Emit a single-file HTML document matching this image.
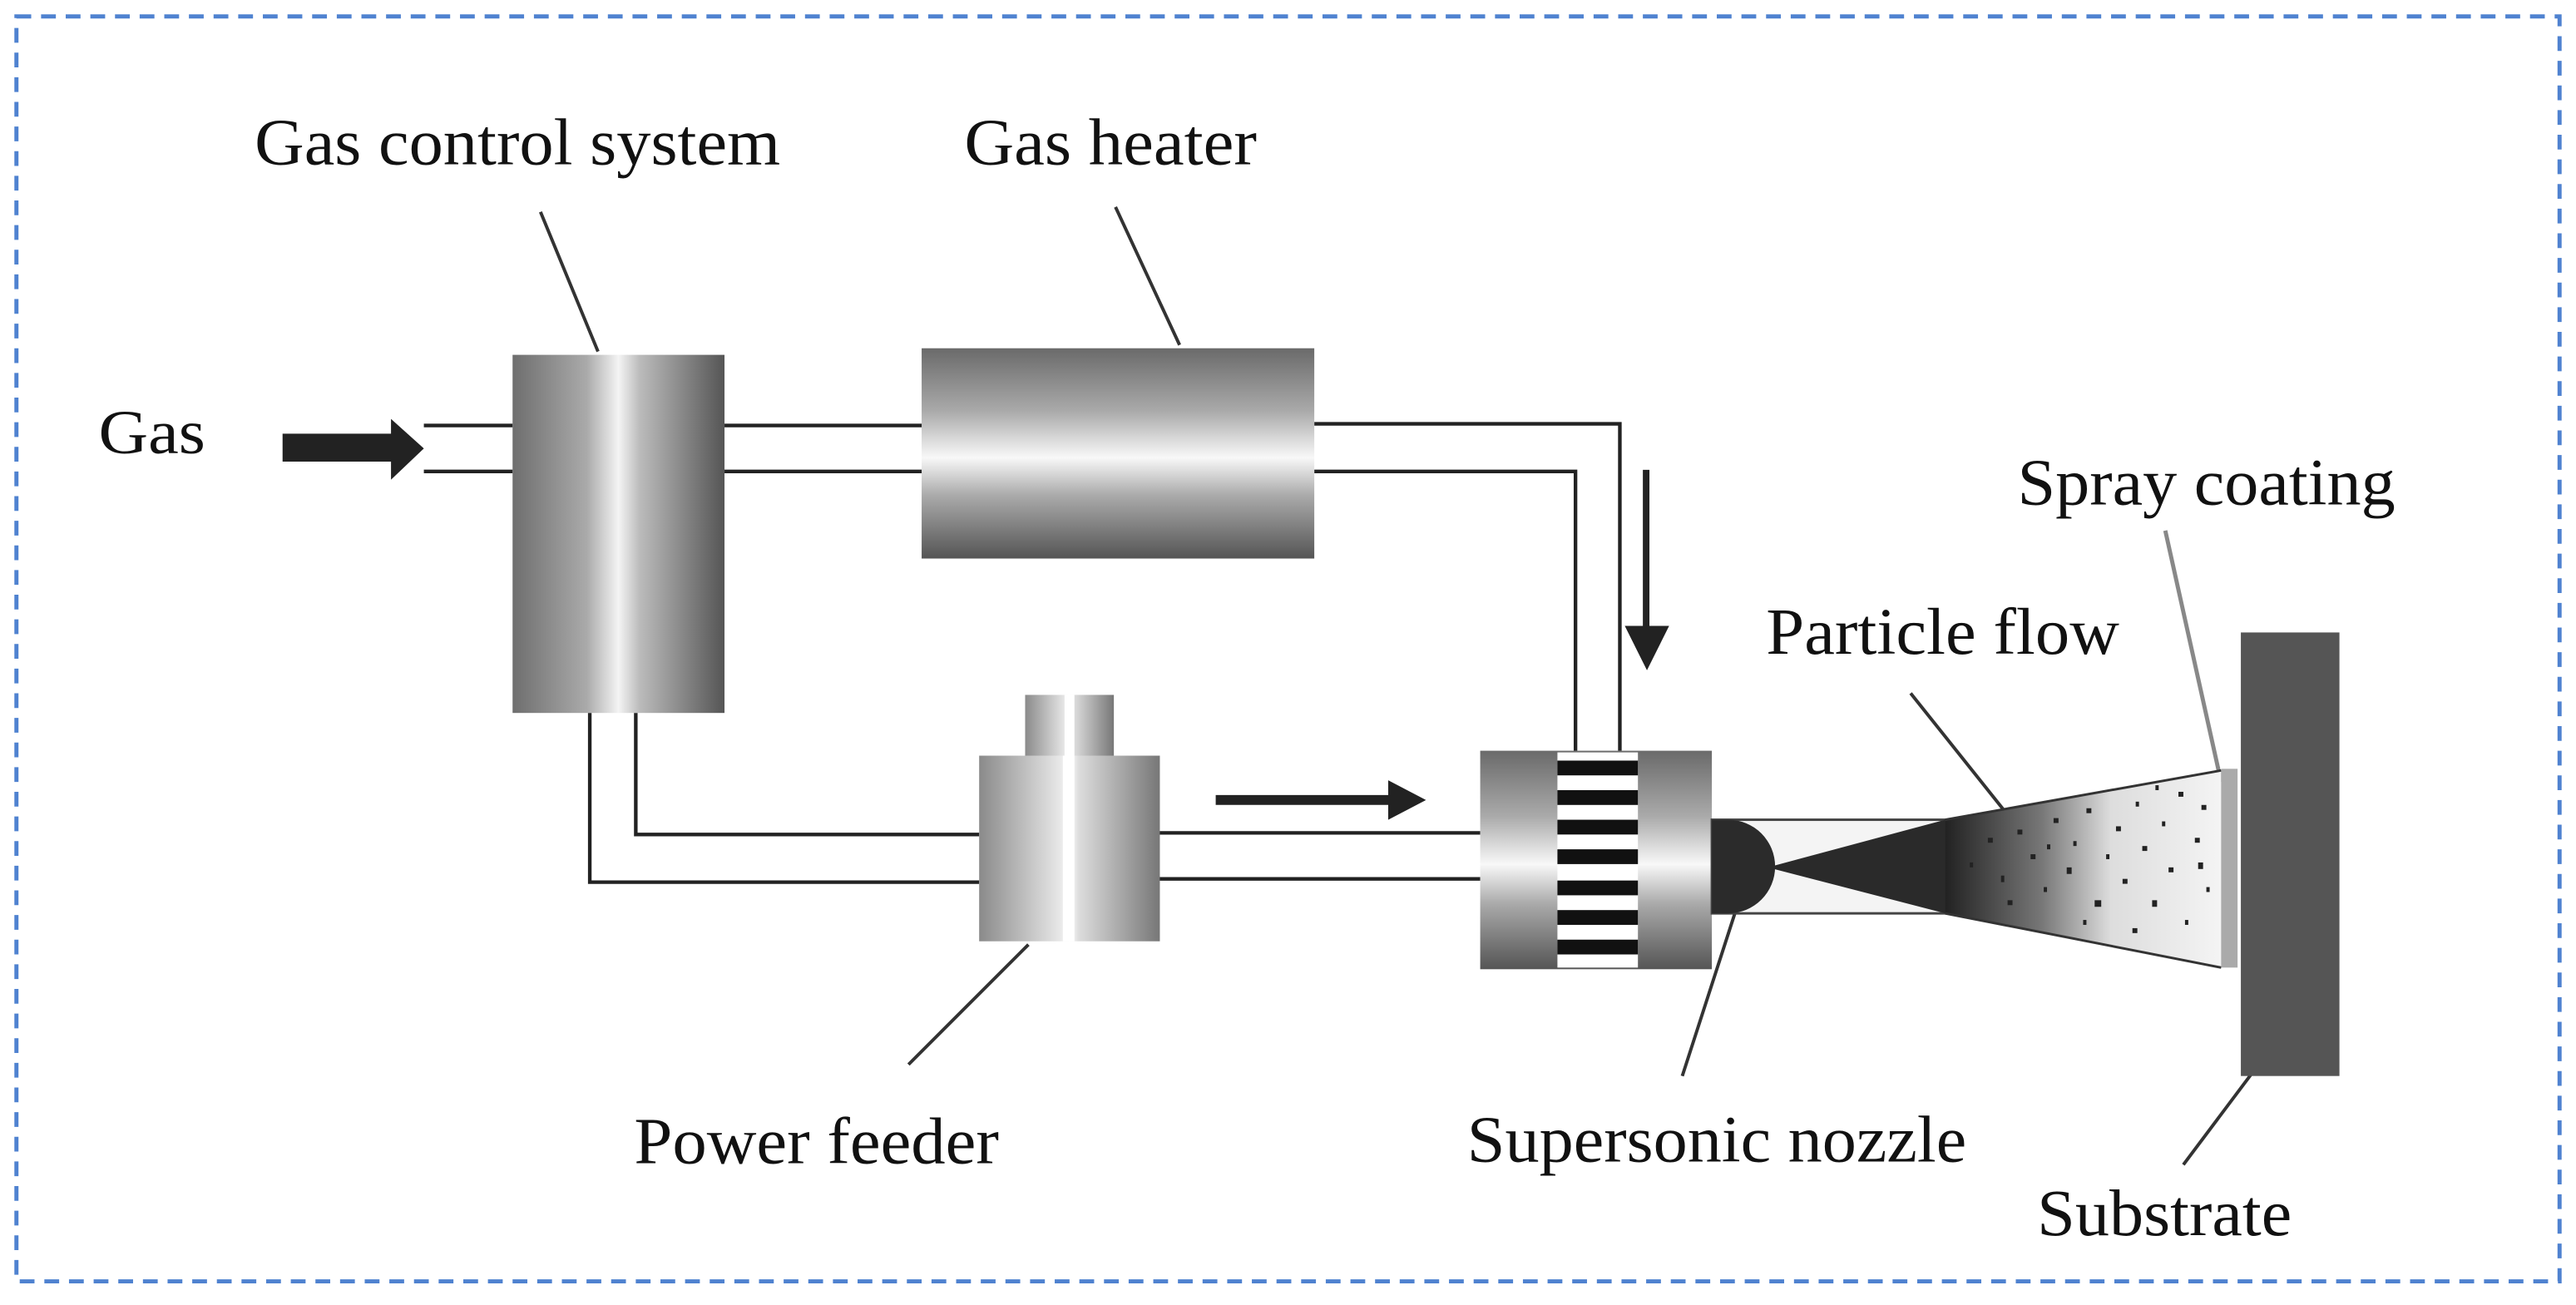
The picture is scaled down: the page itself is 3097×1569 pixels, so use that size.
<!DOCTYPE html>
<html><head><meta charset="utf-8"><style>
html,body{margin:0;padding:0;background:#fff;}
svg{display:block;}
text{font-family:"Liberation Serif",serif;fill:#111;}
</style></head><body>
<svg width="3097" height="1569" viewBox="0 0 1568 794.4" preserveAspectRatio="none" xmlns="http://www.w3.org/2000/svg">
<defs>
<linearGradient id="gh" x1="0" x2="1" y1="0" y2="0">
<stop offset="0" stop-color="#6e6e6e"/><stop offset="0.35" stop-color="#aaa"/><stop offset="0.5" stop-color="#f4f4f4"/><stop offset="0.6" stop-color="#bbb"/><stop offset="1" stop-color="#555"/></linearGradient>
<linearGradient id="gv" x1="0" x2="0" y1="0" y2="1">
<stop offset="0" stop-color="#6a6a6a"/><stop offset="0.3" stop-color="#aaa"/><stop offset="0.52" stop-color="#f8f8f8"/><stop offset="0.7" stop-color="#aaa"/><stop offset="1" stop-color="#555"/></linearGradient>
<linearGradient id="gp" x1="0" x2="1" y1="0" y2="0">
<stop offset="0" stop-color="#8a8a8a"/><stop offset="0.45" stop-color="#e8e8e8"/><stop offset="0.5" stop-color="#fff"/><stop offset="0.55" stop-color="#ddd"/><stop offset="1" stop-color="#777"/></linearGradient>
<linearGradient id="gs" x1="0" x2="1" y1="0" y2="0">
<stop offset="0" stop-color="#222"/><stop offset="0.35" stop-color="#777"/><stop offset="0.6" stop-color="#ddd"/><stop offset="1" stop-color="#f4f4f4"/></linearGradient>
</defs>
<rect x="10" y="10" width="1548" height="770" fill="none" stroke="#4f82d0" stroke-width="2.5" stroke-dasharray="9,6"/>

<!-- labels -->
<text x="155" y="100" font-size="40" textLength="320" lengthAdjust="spacingAndGlyphs">Gas control system</text>
<text x="587" y="100" font-size="40" textLength="178" lengthAdjust="spacingAndGlyphs">Gas heater</text>
<text x="60" y="276" font-size="38" textLength="65" lengthAdjust="spacingAndGlyphs">Gas</text>
<text x="1228" y="307" font-size="40" textLength="230" lengthAdjust="spacingAndGlyphs">Spray coating</text>
<text x="1075" y="398" font-size="40" textLength="215" lengthAdjust="spacingAndGlyphs">Particle flow</text>
<text x="386" y="708" font-size="40" textLength="222" lengthAdjust="spacingAndGlyphs">Power feeder</text>
<text x="893" y="707" font-size="40" textLength="304" lengthAdjust="spacingAndGlyphs">Supersonic nozzle</text>
<text x="1240" y="752" font-size="40" textLength="155" lengthAdjust="spacingAndGlyphs">Substrate</text>

<!-- leaders -->
<g stroke="#333" stroke-width="2" fill="none">
<line x1="329" y1="129" x2="364" y2="214"/>
<line x1="679" y1="126" x2="718" y2="210"/>
<line x1="626" y1="575" x2="553" y2="648"/>
<line x1="1056" y1="556" x2="1024" y2="655"/>
<line x1="1163" y1="422" x2="1238" y2="516"/>
<line x1="1377" y1="645" x2="1329" y2="709"/>
</g>
<line x1="1318" y1="323" x2="1352" y2="476" stroke="#888" stroke-width="2.5"/>

<!-- pipes -->
<g stroke="#222" stroke-width="2.2" fill="none">
<line x1="258" y1="259" x2="312" y2="259"/><line x1="258" y1="287" x2="312" y2="287"/>
<line x1="441" y1="259" x2="562" y2="259"/><line x1="441" y1="287" x2="562" y2="287"/>
<polyline points="800,258 986,258 986,457"/>
<polyline points="800,287 959,287 959,457"/>
<polyline points="387,434 387,508 596,508"/>
<polyline points="359,434 359,537 596,537"/>
<line x1="705" y1="507" x2="901" y2="507"/><line x1="705" y1="535" x2="901" y2="535"/>
</g>

<!-- arrows -->
<rect x="172" y="264" width="70" height="17" fill="#222"/>
<polygon points="238,255 258,273 238,292" fill="#222"/>
<line x1="1002" y1="286" x2="1002" y2="385" stroke="#222" stroke-width="4"/>
<polygon points="989,381 1016,381 1002.5,408" fill="#222"/>
<line x1="740" y1="487" x2="848" y2="487" stroke="#222" stroke-width="6"/>
<polygon points="845,475 868,487 845,499" fill="#222"/>

<!-- boxes -->
<rect x="312" y="216" width="129" height="218" fill="url(#gh)"/>
<rect x="561" y="212" width="239" height="128" fill="url(#gv)"/>
<rect x="624" y="423" width="54" height="38" fill="url(#gp)"/>
<rect x="648" y="423" width="6" height="38" fill="#fff"/>
<rect x="596" y="460" width="110" height="113" fill="url(#gp)"/>
<rect x="647" y="460" width="7" height="113" fill="#fff"/>

<!-- chamber -->
<rect x="901" y="457" width="141" height="133" fill="url(#gv)"/>
<rect x="948" y="458" width="49" height="131" fill="#fff"/>
<g fill="#111">
<rect x="948" y="463" width="49" height="9"/><rect x="948" y="481" width="49" height="9"/>
<rect x="948" y="499" width="49" height="9"/><rect x="948" y="517" width="49" height="9"/>
<rect x="948" y="536" width="49" height="9"/><rect x="948" y="554" width="49" height="9"/>
<rect x="948" y="572" width="49" height="9"/>
</g>

<!-- nozzle & spray -->
<rect x="1042" y="499" width="142" height="57" fill="#f4f4f4" stroke="#444" stroke-width="1.5"/>
<polygon points="1184,499 1352,469 1352,589 1184,556" fill="url(#gs)"/>
<polygon points="1076,528 1184,499 1184,556" fill="#2a2a2a"/>
<line x1="1184" y1="499" x2="1352" y2="469" stroke="#333" stroke-width="1.5"/>
<line x1="1184" y1="556" x2="1352" y2="589" stroke="#333" stroke-width="1.5"/>
<path d="M1042,499 L1052,499 A28,28 0 0 1 1052,556 L1042,556 Z" fill="#2b2b2b"/>
<g fill="#222">
<rect x="1199" y="525" width="2" height="3"/><rect x="1210" y="510" width="3" height="3"/><rect x="1218" y="533" width="2" height="4"/>
<rect x="1228" y="505" width="3" height="3"/><rect x="1236" y="520" width="3" height="3"/><rect x="1244" y="540" width="2" height="3"/>
<rect x="1250" y="498" width="3" height="3"/><rect x="1258" y="528" width="3" height="4"/><rect x="1262" y="512" width="2" height="3"/>
<rect x="1270" y="492" width="3" height="3"/><rect x="1275" y="548" width="4" height="4"/><rect x="1282" y="520" width="2" height="3"/>
<rect x="1288" y="503" width="3" height="3"/><rect x="1292" y="535" width="3" height="3"/><rect x="1300" y="488" width="2" height="3"/>
<rect x="1304" y="515" width="3" height="3"/><rect x="1310" y="548" width="3" height="4"/><rect x="1316" y="500" width="2" height="3"/>
<rect x="1320" y="528" width="3" height="3"/><rect x="1326" y="482" width="3" height="3"/><rect x="1330" y="560" width="2" height="3"/>
<rect x="1336" y="510" width="3" height="3"/><rect x="1340" y="490" width="3" height="3"/><rect x="1343" y="540" width="2" height="3"/>
<rect x="1222" y="548" width="3" height="3"/><rect x="1268" y="560" width="2" height="3"/><rect x="1298" y="565" width="3" height="3"/>
<rect x="1312" y="478" width="2" height="3"/><rect x="1338" y="525" width="3" height="4"/><rect x="1246" y="514" width="2" height="3"/>
</g>
<rect x="1352" y="468" width="10" height="121" fill="#aaa"/>
<rect x="1364" y="385" width="60" height="270" fill="#555"/>
</svg>
</body></html>
